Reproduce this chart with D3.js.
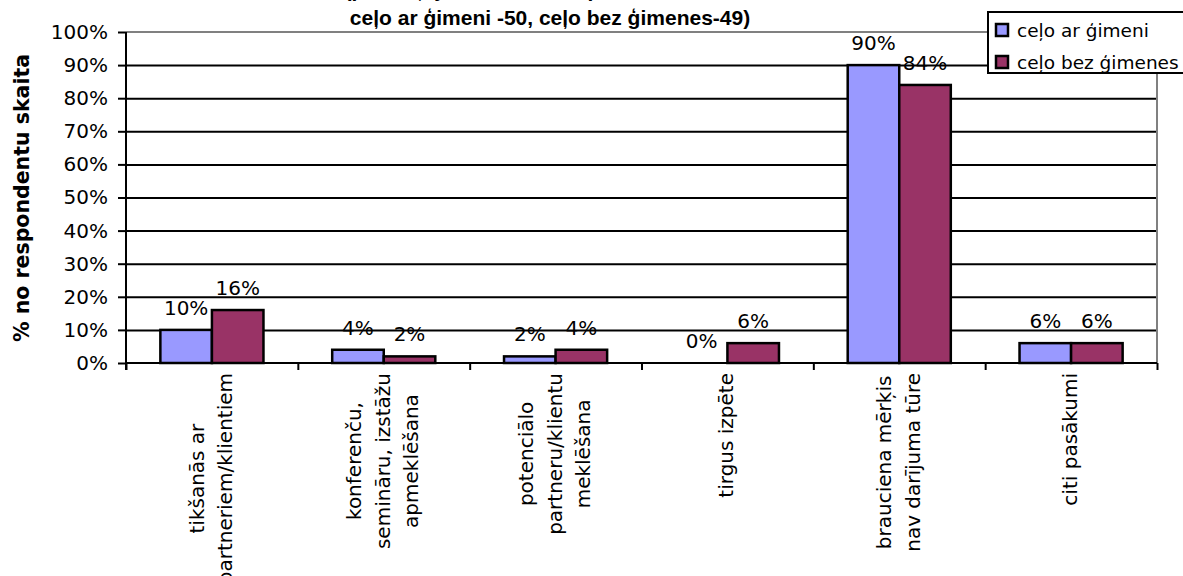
<!DOCTYPE html>
<html>
<head>
<meta charset="utf-8">
<script src="https://cdn.jsdelivr.net/npm/d3@7"></script>
<style>
  body { margin: 0; background: #fff; }
  svg { display: block; }
</style>
</head>
<body>
<script>
const categories = [
  ['tikšanās ar', 'partneriem/klientiem'],
  ['konferenču,', 'semināru, izstāžu', 'apmeklēšana'],
  ['potenciālo', 'partneru/klientu', 'meklēšana'],
  ['tirgus izpēte'],
  ['brauciena mērķis', 'nav darījuma tūre'],
  ['citi pasākumi']
];
const seriesNames = ['ceļo ar ģimeni', 'ceļo bez ģimenes'];
const withFamily = [10, 4, 2, 0, 90, 6];
const withoutFamily = [16, 2, 4, 6, 84, 6];
const yTicks = [0, 10, 20, 30, 40, 50, 60, 70, 80, 90, 100];
const titleLines = ['(pēc ceļojuma veida, respondentu skaits:', 'ceļo ar ģimeni -50, ceļo bez ģimenes-49)'];
const yTitle = '% no respondentu skaita';

const colors = ['#9999ff', '#993366'];
const width = 1183;
const height = 576;
const plot = { left: 126, right: 1157, top: 32, bottom: 363 };
const labelFont = '"DejaVu Sans", Verdana, sans-serif';

const svg = d3.select('body')
  .append('svg')
  .attr('width', width)
  .attr('height', height);

const catIdx = categories.map((c, i) => i);

const x0 = d3.scaleBand()
  .domain(catIdx)
  .range([plot.left, plot.right]);

const x1 = d3.scaleBand()
  .domain([0, 1])
  .range([x0.bandwidth() * 0.2, x0.bandwidth() * 0.8]);

const y = d3.scaleLinear()
  .domain([0, 100])
  .range([plot.bottom, plot.top]);

// gridlines
svg.append('g')
  .attr('transform', 'translate(' + plot.left + ',0)')
  .call(d3.axisLeft(y).tickValues(yTicks.slice(1, -1)).tickSize(-(plot.right - plot.left)).tickFormat(''))
  .call(g => g.select('.domain').remove())
  .call(g => g.selectAll('line').attr('stroke', '#000').attr('stroke-width', 2));

// top and right border (grey)
svg.append('line')
  .attr('x1', plot.left).attr('x2', plot.right)
  .attr('y1', y(100)).attr('y2', y(100))
  .attr('stroke', '#808080').attr('stroke-width', 2);
svg.append('line')
  .attr('x1', plot.right).attr('x2', plot.right)
  .attr('y1', y(100)).attr('y2', y(0))
  .attr('stroke', '#808080').attr('stroke-width', 2);

// bars
const rows = catIdx.map(i => [withFamily[i], withoutFamily[i]]);
const groups = svg.selectAll('g.cat')
  .data(rows)
  .enter()
  .append('g')
  .attr('class', 'cat')
  .attr('transform', (d, i) => 'translate(' + x0(i) + ',0)');

groups.selectAll('rect')
  .data(d => d)
  .enter()
  .append('rect')
  .attr('x', (d, j) => x1(j))
  .attr('width', x1.bandwidth())
  .attr('y', d => y(d))
  .attr('height', d => y(0) - y(d))
  .attr('fill', (d, j) => colors[j])
  .attr('stroke', '#000')
  .attr('stroke-width', 2.5);

groups.selectAll('text.val')
  .data(d => d)
  .enter()
  .append('text')
  .attr('class', 'val')
  .attr('x', (d, j) => x1(j) + x1.bandwidth() / 2)
  .attr('y', d => y(d) - 15)
  .attr('text-anchor', 'middle')
  .style('font-family', labelFont)
  .style('font-size', '20px')
  .text(d => d + '%');

// y axis
svg.append('g')
  .attr('transform', 'translate(' + plot.left + ',0)')
  .call(d3.axisLeft(y).tickValues(yTicks).tickSize(8).tickPadding(10).tickFormat(d => d + '%'))
  .call(g => g.select('.domain').attr('stroke', '#000').attr('stroke-width', 2).attr('d', 'M0,' + plot.top + 'V' + (plot.bottom + 7)))
  .call(g => g.selectAll('line').attr('stroke', '#000').attr('stroke-width', 2))
  .call(g => g.selectAll('text').attr('fill', '#000').style('font-family', labelFont).style('font-size', '20px'));

// x axis with ticks between categories
const xEdge = d3.scaleLinear().domain([0, categories.length]).range([plot.left, plot.right]);
svg.append('g')
  .attr('transform', 'translate(0,' + plot.bottom + ')')
  .call(d3.axisBottom(xEdge).ticks(categories.length).tickSize(7).tickFormat(''))
  .call(g => g.select('.domain').attr('stroke', '#000').attr('stroke-width', 2).attr('d', 'M' + plot.left + ',0H' + plot.right))
  .call(g => g.selectAll('line').attr('stroke', '#000').attr('stroke-width', 2));

// category labels, rotated
const lineStep = 28.5;
categories.forEach((lines, i) => {
  const cx = x0(i) + x0.bandwidth() / 2;
  const g = svg.append('g')
    .attr('transform', 'translate(' + cx + ',373) rotate(-90)');
  const texts = g.selectAll('text')
    .data(lines)
    .enter()
    .append('text')
    .attr('y', (d, k) => (k - (lines.length - 1) / 2) * lineStep + 6)
    .attr('text-anchor', 'middle')
    .style('font-family', labelFont)
    .style('font-size', '20px')
    .text(d => d);
  let maxLen = 0;
  texts.each(function() { maxLen = Math.max(maxLen, this.getComputedTextLength()); });
  texts.attr('x', -maxLen / 2);
});

// y title
svg.append('text')
  .attr('transform', 'translate(29,198) rotate(-90)')
  .attr('text-anchor', 'middle')
  .style('font-family', labelFont)
  .style('font-weight', 'bold')
  .style('font-size', '20.5px')
  .text(yTitle);

// chart title (first line cut off at the top, as in the original)
svg.selectAll('text.title')
  .data(titleLines)
  .enter()
  .append('text')
  .attr('class', 'title')
  .attr('x', 550)
  .attr('y', (d, i) => -3 + i * 28)
  .attr('text-anchor', 'middle')
  .style('font-family', '"Liberation Sans", Arial, sans-serif')
  .style('font-weight', 'bold')
  .style('font-size', '21px')
  .text(d => d);

// legend
const legend = svg.append('g');
legend.append('rect')
  .attr('x', 988).attr('y', 12)
  .attr('width', 200).attr('height', 61)
  .attr('fill', '#fff')
  .attr('stroke', '#000')
  .attr('stroke-width', 2);
seriesNames.forEach((name, j) => {
  const ly = 30 + j * 32;
  legend.append('rect')
    .attr('x', 996).attr('y', ly - 6)
    .attr('width', 12).attr('height', 12)
    .attr('fill', colors[j])
    .attr('stroke', '#000')
    .attr('stroke-width', 2.5);
  legend.append('text')
    .attr('x', 1017).attr('y', ly + 7)
    .style('font-family', labelFont)
    .style('font-size', '18.5px')
    .text(name);
});
</script>
</body>
</html>
